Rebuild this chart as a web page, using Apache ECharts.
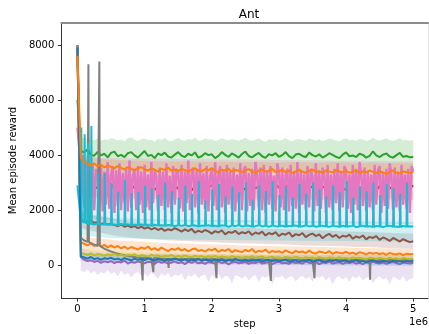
<!DOCTYPE html>
<html><head><meta charset="utf-8">
<script src="https://cdn.jsdelivr.net/npm/echarts@6/dist/echarts.min.js"></script>
<style>html,body{margin:0;padding:0;background:#fff}#c{width:429px;height:334px}</style>
</head><body><div id="c"></div>
<script>
// x positions (environment steps)
const steps = Array.from({length: 101}, (_, i) => i * 50000);      // coarse grid
const fineSteps = Array.from({length: 201}, (_, i) => i * 25000);  // fine grid
const bandSteps = [0, 50000, 200000, 400000, 600000, 800000, 1000000, 1200000, 1400000, 1600000, 1800000, 2000000, 2200000, 2400000, 2600000, 2800000, 3000000, 3200000, 3400000, 3600000, 3800000, 4000000, 4200000, 4400000, 4600000, 4800000, 5000000];

const xTicks = [0, 1000000, 2000000, 3000000, 4000000, 5000000];
const yTicks = [0, 2000, 4000, 6000, 8000];

// ---- series means (coarse grid) ----
const greenMean = [6000,4150,4100,4200,4020,3980,4120,3990,4050,3920,
4080,4130,3960,4010,3930,4070,4110,3990,3910,4030,
4150,3970,4010,3890,4060,4000,4090,3950,3910,4020,
4110,3980,3930,4050,3990,4100,3910,3960,4070,4000,
4030,3890,3970,4110,4010,3940,4060,3990,3910,4040,
4130,3970,3920,4010,4080,3960,3900,4030,3990,4070,
3940,4000,4110,3960,3890,4020,4050,3970,3930,4090,
4000,3950,4030,3910,3980,4070,4010,3940,3890,4020,
4100,3960,3990,3930,4050,4010,3910,3970,4140,3990,
3930,4020,4060,3950,3910,4000,4080,3940,3970,3920,
3930];
const orangeUpMean = [7600,3900,3750,3680,3620,3700,3590,3650,3560,3620,
3580,3520,3610,3540,3480,3570,3500,3450,3530,3560,
3490,3440,3520,3470,3400,3510,3460,3550,3430,3480,
3420,3500,3460,3390,3480,3520,3440,3410,3490,3450,
3530,3420,3380,3470,3440,3510,3400,3460,3430,3370,
3450,3490,3410,3360,3440,3480,3400,3430,3500,3390,
3420,3460,3380,3440,3350,3410,3470,3400,3360,3430,
3480,3390,3420,3350,3440,3400,3370,3460,3410,3380,
3430,3360,3400,3450,3340,3410,3380,3440,3390,3350,
3420,3370,3310,3400,3440,3360,3330,3410,3380,3350,
3400];
const redMean = [7800,3000,2950,2800,2900,2750,2850,2950,2700,2880,
2820,2950,2760,2900,2850,2700,2930,2800,2880,2750,
2900,2820,2970,2740,2860,2800,2920,2710,2850,2900,
2780,2880,2950,2820,2720,2870,2800,2940,2760,2850,
2900,2790,2850,2700,2880,2940,2810,2760,2890,2830,
2750,2870,2920,2800,2860,2730,2900,2840,2780,2950,
2820,2760,2880,2910,2790,2850,2720,2870,2930,2800,
2860,2940,2780,2830,2890,2750,2870,2810,2920,2790,
2740,2880,2830,2950,2800,2860,2770,2900,2840,2720,
2870,2810,2930,2790,2850,2900,2760,2880,2820,2950,
2850];
const purpleMean = [8000,300,200,150,180,120,160,90,140,110,
150,80,130,100,170,60,120,90,140,100,
70,130,110,50,150,90,120,60,100,140,
80,110,40,130,90,150,70,100,50,120,
90,60,140,80,110,30,100,130,70,90,
120,50,100,80,140,60,90,110,40,100,
130,70,90,50,120,80,100,60,140,90,
70,110,40,100,80,130,60,90,110,50,
100,80,120,60,90,40,110,70,130,80,
60,100,50,90,120,70,40,100,80,60,
90];
const brownMean = [7950,1650,1600,1580,1620,1540,1560,1500,1530,1480,
1510,1460,1420,1480,1400,1440,1380,1420,1350,1400,
1330,1380,1300,1360,1280,1340,1250,1310,1270,1350,
1290,1220,1300,1240,1320,1180,1260,1200,1280,1230,
1150,1240,1190,1270,1120,1210,1180,1250,1130,1200,
1160,1230,1100,1190,1140,1220,1080,1170,1120,1200,
1060,1150,1110,1190,1040,1130,1090,1170,1020,1110,
1150,1060,1120,980,1080,1140,1030,1100,990,1070,
1040,1110,960,1050,1000,1080,940,1030,990,1060,
920,1010,960,880,990,930,860,950,890,840,
870];
const orangeLowMean = [7700,850,780,720,800,700,760,680,740,650,
720,640,700,610,680,590,660,620,570,650,
600,680,560,620,540,640,580,510,600,560,
620,530,590,500,570,610,520,560,490,580,
540,600,480,560,520,590,470,550,510,480,
560,500,590,460,530,490,570,450,520,480,
510,450,540,480,430,520,470,500,440,530,
460,420,500,470,440,510,410,480,450,430,
490,420,460,400,470,440,390,460,420,450,
400,440,380,450,410,390,430,370,420,400,
410];
const oliveMean = [7800,450,420,380,430,360,410,390,340,400,
370,420,350,390,330,380,360,400,320,370,
350,310,380,340,360,300,350,330,370,310,
340,300,360,320,290,350,310,340,280,330,
300,340,280,320,300,270,330,290,310,260,
310,280,330,270,300,320,260,290,310,270,
290,250,300,280,260,310,270,240,290,260,
280,250,300,260,240,280,270,230,290,250,
260,230,280,250,270,240,220,270,250,230,
260,240,220,270,230,250,210,260,240,230,
240];
const blueMean = [7900,320,280,240,300,220,260,200,250,230,
270,210,240,190,260,220,180,240,200,230,
190,250,210,170,230,200,160,220,190,240,
200,170,220,150,210,180,230,160,200,190,
150,210,170,200,140,190,160,220,170,150,
190,140,180,160,210,130,170,190,150,180,
140,170,200,130,160,180,120,170,150,190,
130,160,180,140,120,170,150,190,130,160,
170,120,150,180,130,160,110,150,170,140,
120,160,140,110,170,130,150,120,160,140,
150];
const grayBase = [8000,1000,900,850,800,750,700,650,600,550,
500,460,420,390,360,340,320,300,290,280,
270,260,250,240,250,230,240,220,230,240,
220,230,210,240,220,230,210,220,240,210,
230,220,210,230,200,220,210,230,200,220,
210,200,220,210,190,220,200,210,190,220,
200,210,190,220,200,190,210,200,190,210,
200,190,210,200,180,210,190,200,180,210,
190,200,180,210,190,180,200,190,180,200,
190,180,200,190,170,200,180,190,170,190,
180];
const cyanBase = [2900,1600,1550,1520,1500,1480,1520,1490,1470,1500,
1460,1480,1450,1500,1460,1490,1440,1470,1450,1480,
1440,1460,1430,1470,1440,1450,1430,1460,1440,1420,
1450,1430,1460,1420,1440,1450,1410,1440,1430,1450,
1420,1440,1410,1450,1430,1400,1440,1420,1450,1410,
1430,1440,1400,1420,1450,1410,1430,1400,1440,1420,
1410,1440,1400,1430,1420,1450,1400,1420,1440,1410,
1430,1400,1420,1440,1410,1400,1430,1420,1390,1440,
1400,1420,1430,1390,1410,1440,1400,1420,1390,1430,
1410,1390,1420,1440,1400,1410,1390,1430,1400,1420,
1410];
// single-sample spikes on top of the baselines
const graySpikeSteps = [163000, 326000, 970000, 1130000, 1350000, 2070000, 2880000, 3530000, 4350000];
const graySpikeVals = [7300, 7400, -550, -250, -100, -470, -570, -470, -530];
const cyanSpikeSteps = [50000,100000,150000,200000,300000,400000,500000,600000,700000,800000,
900000,1000000,1100000,1200000,1300000,1400000,1500000,1600000,1700000,1800000,
1900000,2000000,2100000,2200000,2300000,2400000,2500000,2600000,2700000,2800000,
2900000,3000000,3100000,3200000,3300000,3400000,3500000,3600000,3700000,3800000,
3900000,4000000,4100000,4200000,4300000,4400000,4500000,4600000,4700000,4800000,4900000];
const cyanSpikeVals = [5000,4760,4430,5060,3350,3350,2980,2670,3090,2620,
2670,2880,2800,2550,3000,2700,2450,2900,2600,3050,
2350,2750,2950,2500,2850,2650,3000,2400,2900,2700,
3050,2550,2850,2450,2950,2600,3000,2750,2500,2900,
2650,3050,2450,2850,2700,3000,2550,2950,2800,2600,3000];
// pink oscillates quickly (fine grid)
const pinkMean = [5000,4300,2200,4000,2100,3800,1900,3600,2300,3700,
2000,3500,3200,2100,3650,1950,3400,2200,3750,2050,
3300,3600,1900,3450,2150,3700,2000,3350,2250,3550,
1950,3800,2100,3250,3500,2000,3600,2200,3400,1900,
3650,2100,3300,2000,3750,2250,3450,3200,1950,3550,
2150,3400,2000,3700,2100,3250,1900,3600,2200,3500,
3350,2050,3650,1950,3400,2250,3800,2000,3300,3550,
2100,3450,1900,3700,2200,3350,2050,3600,1950,3250,
3500,2150,3750,2000,3300,3600,2100,3450,1900,3650,
2200,3400,2050,3550,1950,3300,2250,3700,2000,3450,
3600,1950,3350,2150,3500,2000,3750,3300,2100,3550,
2000,3650,1900,3400,2200,3600,2050,3250,1950,3700,
3400,2100,3550,2000,3300,3500,1950,3650,2150,3350,
2050,3750,1900,3450,2200,3300,2000,3600,2100,3500,
3250,1950,3700,2150,3400,2050,3550,3350,1900,3650,
2100,3300,2000,3500,2250,3700,1950,3400,2100,3600,
3450,2050,3300,1900,3650,2200,3500,2000,3750,3350,
2150,3550,1950,3400,2100,3300,2000,3650,2200,3450,
3600,1900,3350,2150,3500,2050,3700,3300,2000,3550,
2100,3400,1950,3650,2200,3300,2050,3500,1900,3600,
3400];

// ---- shaded bands (upper / lower) ----
const greenUpper = [6200,4650,4600,4620,4560,4540,4600,4520,4580,4550,
4610,4590,4530,4570,4500,4620,4640,4560,4510,4580,
4600,4540,4570,4490,4590,4560,4620,4530,4500,4570,
4620,4550,4510,4590,4560,4640,4520,4530,4600,4570,
4580,4500,4550,4610,4570,4530,4590,4560,4520,4580,
4630,4560,4510,4570,4600,4540,4490,4580,4550,4590,
4520,4560,4620,4540,4500,4570,4590,4550,4520,4600,
4570,4530,4580,4510,4550,4600,4570,4530,4500,4570,
4610,4540,4560,4520,4590,4570,4510,4550,4630,4560,
4520,4570,4600,4540,4510,4560,4610,4530,4550,4520,
4540];
const greenLower = [5800,3450,3400,3380,3350,3360,3330,3350,3320,3340,3360,3330,3310,3350,3340,3320,3360,3330,3310,3340,3350,3320,3330,3340,3310,3330,3320];
const orangeUpUpper = [7800,4000,3900,3850,3820,3800,3800,3780,3780,3760,3770,3750,3760,3740,3750,3740,3730,3750,3730,3720,3740,3720,3710,3730,3700,3720,3700];
const orangeUpLower = [7400,3300,3200,3150,3100,3100,3080,3060,3050,3050,3040,3030,3030,3020,3010,3020,3000,3000,2990,2990,2980,2990,2970,2980,2960,2970,2960];
const redUpper = [8000,3400,3350,3320,3300,3310,3290,3300,3280,3300,3290,3280,3300,3270,3290,3280,3300,3270,3290,3280,3270,3290,3280,3270,3290,3280,3270];
const redLower = [7600,2600,2450,2420,2400,2410,2390,2400,2380,2400,2390,2380,2400,2370,2390,2380,2400,2370,2390,2380,2370,2390,2380,2370,2390,2380,2370];
const purpleUpper = [8300,600,500,450,420,420,400,410,390,400,380,400,390,380,400,370,390,380,390,370,380,390,370,380,360,380,370];
const purpleLower = [7700,-200,-250,-150,-300,-200,-350,-250,-300,-180,
-320,-250,-400,-200,-350,-280,-450,-300,-250,-380,
-300,-420,-260,-350,-500,-300,-380,-280,-450,-330,
-400,-300,-550,-350,-420,-300,-480,-380,-330,-600,
-350,-450,-300,-520,-380,-420,-650,-350,-400,-480,
-380,-550,-420,-350,-600,-400,-450,-380,-700,-420,
-450,-380,-520,-430,-400,-580,-450,-380,-500,-420,
-600,-400,-460,-380,-550,-420,-700,-450,-400,-520,
-430,-600,-400,-480,-380,-550,-450,-420,-650,-480,
-400,-520,-450,-700,-420,-480,-550,-400,-600,-500,
-450];
const brownUpper = [8100,1950,1850,1750,1650,1600,1550,1500,1480,1450,1420,1400,1380,1370,1350,1330,1320,1300,1280,1270,1250,1230,1220,1200,1180,1160,1150];
const brownLower = [7800,1350,1250,1150,1050,1000,960,930,900,880,860,840,820,800,790,770,760,740,720,710,700,680,660,650,630,610,600];
const orangeLowUpper = [7900,1100,1000,950,900,870,850,820,800,780,770,750,740,720,710,700,690,680,670,660,650,640,630,620,610,600,600];
const orangeLowLower = [7500,550,500,450,420,400,380,360,340,330,320,310,300,290,280,270,260,250,240,230,220,210,200,190,180,170,170];
const oliveUpper = [7950,600,560,520,500,480,470,460,450,440,430,420,420,410,400,400,390,390,380,380,370,370,360,360,350,350,350];
const oliveLower = [7650,300,270,240,220,210,200,190,180,170,160,160,150,150,140,140,130,130,120,120,110,110,100,100,90,90,90];
const blueUpper = [8000,450,420,400,380,370,360,350,340,330,320,320,310,310,300,300,290,290,280,280,280,270,270,270,260,260,260];
const blueLower = [7800,180,150,120,100,90,80,70,60,50,40,40,30,30,20,20,10,10,0,0,0,-10,-10,-10,-20,-20,-20];
const cyanUpper = [3100,2000,1800,1750,1700,1700,1680,1670,1660,1650,1650,1640,1640,1630,1630,1620,1620,1610,1610,1600,1600,1600,1590,1590,1580,1580,1580];
const cyanLower = [2700,1100,1050,1000,980,970,960,950,940,930,930,920,920,910,910,900,900,890,890,880,880,880,870,870,860,860,860];
const pinkUpper = [5200,4300,3950,3900,3900,3880,3880,3870,3860,3860,3850,3850,3840,3840,3830,3830,3820,3820,3810,3810,3800,3800,3800,3790,3790,3780,3780];
const pinkLower = [4800,1900,1700,1650,1620,1600,1600,1590,1580,1580,1570,1570,1560,1560,1550,1550,1540,1540,1530,1530,1520,1520,1510,1510,1500,1500,1500];

const C = {blue:'#1f77b4', orange:'#ff7f0e', green:'#2ca02c', red:'#d62728', purple:'#9467bd',
  brown:'#8c564b', pink:'#e377c2', gray:'#7f7f7f', olive:'#bcbd22', cyan:'#17becf'};

const pairs = (xs, ys) => ys.map((v, i) => [xs[i], v]);
// merge a baseline with single-sample spikes (each spike is a one-sample excursion)
const SPIKE_HALF = 7000;
function withSpikes(xs, base, sx, sv) {
  const out = []; let j = 0; let last = base[0];
  for (let i = 0; i < xs.length; i++) {
    while (j < sx.length && sx[j] < xs[i]) {
      out.push([sx[j] - SPIKE_HALF, last], [sx[j], sv[j]], [sx[j] + SPIKE_HALF, last]); j++;
    }
    out.push([xs[i], base[i]]); last = base[i];
    while (j < sx.length && sx[j] === xs[i]) {
      out.push([sx[j] + 1, base[i]], [sx[j] + SPIKE_HALF, sv[j]], [sx[j] + 2 * SPIKE_HALF, base[i]]); j++;
    }
  }
  return out;
}

// draw order (later = on top)
const runs = [
  {c:C.orange, d:pairs(steps, orangeLowMean), ux:bandSteps, up:orangeLowUpper, lx:bandSteps, lo:orangeLowLower},
  {c:C.green, d:pairs(steps, greenMean), ux:steps, up:greenUpper, lx:bandSteps, lo:greenLower},
  {c:C.red, d:pairs(steps, redMean), ux:bandSteps, up:redUpper, lx:bandSteps, lo:redLower},
  {c:C.purple, d:pairs(steps, purpleMean), ux:bandSteps, up:purpleUpper, lx:steps, lo:purpleLower},
  {c:C.brown, d:pairs(steps, brownMean), ux:bandSteps, up:brownUpper, lx:bandSteps, lo:brownLower},
  {c:C.pink, d:pairs(fineSteps, pinkMean), w:2.4, ux:bandSteps, up:pinkUpper, lx:bandSteps, lo:pinkLower},
  {c:C.gray, d:withSpikes(steps, grayBase, graySpikeSteps, graySpikeVals)},
  {c:C.olive, d:pairs(steps, oliveMean), ux:bandSteps, up:oliveUpper, lx:bandSteps, lo:oliveLower},
  {c:C.cyan, d:withSpikes(steps, cyanBase, cyanSpikeSteps, cyanSpikeVals), ux:bandSteps, up:cyanUpper, lx:bandSteps, lo:cyanLower},
  {c:C.blue, d:pairs(steps, blueMean), ux:bandSteps, up:blueUpper, lx:bandSteps, lo:blueLower},
  {c:C.orange, d:pairs(steps, orangeUpMean), ux:bandSteps, up:orangeUpUpper, lx:bandSteps, lo:orangeUpLower}
];

const series = [];
let z = 2;
runs.forEach(r => {
  if (!r.up) return;
  series.push({type:'custom', data:[[0,0]], z: z++, silent:true, animation:false, clip:true,
    renderItem: (params, api) => {
      const pts = [];
      for (let i = 0; i < r.up.length; i++) pts.push(api.coord([r.ux[i], r.up[i]]));
      for (let i = r.lo.length - 1; i >= 0; i--) pts.push(api.coord([r.lx[i], r.lo[i]]));
      return {type:'polygon', shape:{points:pts}, style:{fill:r.c, opacity:0.2}};
    }});
});
runs.forEach(r => {
  series.push({type:'line', data:r.d, showSymbol:false, symbol:'none',
    lineStyle:{color:r.c, width:r.w || 2}, itemStyle:{color:r.c}, z: z++, silent:true, animation:false, clip:true});
});

const FONT = 'DejaVu Sans';
const chart = echarts.init(document.getElementById('c'), null, {renderer:'canvas'});
chart.setOption({
  animation:false,
  backgroundColor:'#fff',
  title:{text:'Ant', left:244, top:4, textAlign:'center',
    textStyle:{fontFamily:FONT, fontSize:12, fontWeight:'normal', color:'#000'}},
  grid:{left:60, right:1, top:23, bottom:36, containLabel:false},
  xAxis:[
    {type:'value', min:-240000, max:5220000, position:'bottom',
     axisLine:{show:true, onZero:false, lineStyle:{color:'#333', width:1}},
     axisTick:{show:true, inside:false, length:3.5, customValues:xTicks, lineStyle:{color:'#333'}},
     axisLabel:{customValues:xTicks, formatter:v => String(Math.round(v/1e6)), fontFamily:FONT, fontSize:10, color:'#000', margin:6},
     splitLine:{show:false},
     name:'step', nameLocation:'middle', nameGap:21, nameTextStyle:{fontFamily:FONT, fontSize:10, color:'#000'}},
    {type:'value', min:-240000, max:5220000, position:'top',
     axisLine:{show:true, onZero:false, lineStyle:{color:'#8c8c8c', width:2}},
     axisTick:{show:false}, axisLabel:{show:false}, splitLine:{show:false}}
  ],
  yAxis:[
    {type:'value', min:-1190, max:8800, position:'left',
     axisLine:{show:true, onZero:false, lineStyle:{color:'#333', width:1}},
     axisTick:{show:true, inside:false, length:3.5, customValues:yTicks, lineStyle:{color:'#333'}},
     axisLabel:{customValues:yTicks, formatter:v => String(v), fontFamily:FONT, fontSize:10, color:'#000', margin:7},
     splitLine:{show:false},
     name:'Mean episode reward', nameLocation:'middle', nameGap:35, nameTextStyle:{fontFamily:FONT, fontSize:10, color:'#000'}},
    {type:'value', min:-1190, max:8800, position:'right',
     axisLine:{show:true, onZero:false, lineStyle:{color:'#e2e2e2', width:1}},
     axisTick:{show:false}, axisLabel:{show:false}, splitLine:{show:false}}
  ],
  graphic:[{type:'text', right:1, top:317, style:{text:'1e6', font:'10px "DejaVu Sans"', fill:'#000'}}],
  series: series
});
</script></body></html>
